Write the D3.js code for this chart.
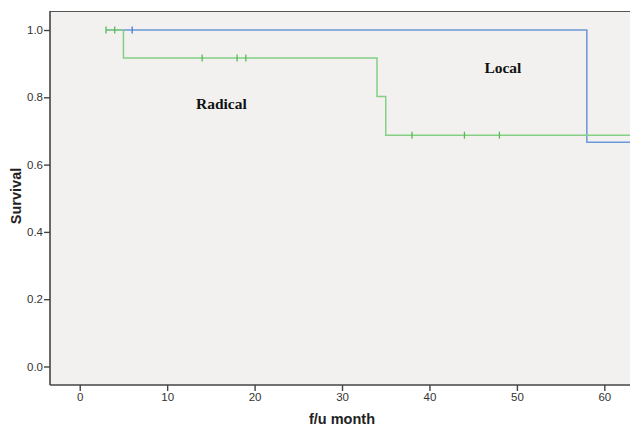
<!DOCTYPE html>
<html><head><meta charset="utf-8">
<script src="https://cdn.jsdelivr.net/npm/d3@7"></script>
<style>body{margin:0;background:#fff}svg{display:block}</style>
</head><body>
<svg id="c" width="630" height="428"></svg>
<script>
// Kaplan-Meier step data: [time, survival]
const radicalSteps = [[3,1.0],[5,0.9167],[34,0.8021],[35,0.6875],[64,0.6875]];
const radicalCensor = [[3,1.0],[4,1.0],[14,0.9167],[18,0.9167],[19,0.9167],[38,0.6875],[44,0.6875],[48,0.6875]];
const localSteps = [[3,1.0],[58,0.6667],[64,0.6667]];
const localCensor = [[6,1.0]];
const xTicks = [0,10,20,30,40,50,60];
const yTicks = [0.0,0.2,0.4,0.6,0.8,1.0];
const labels = [{text:"Radical", t:16.2, s:0.765},{text:"Local", t:48.4, s:0.872}];

const svg = d3.select("#c");
const L=50, T=11, R=631, B=385;
const x = d3.scaleLinear().domain([-3.4, 63.05]).range([L, R]);
const y = d3.scaleLinear().domain([-0.055, 1.0565]).range([B, T]);

svg.append("rect").attr("x",L).attr("y",T).attr("width",R-L).attr("height",B-T).attr("fill","#f2f1f0");
svg.append("line").attr("x1",L).attr("x2",R).attr("y1",T+0.5).attr("y2",T+0.5).attr("stroke","#555").attr("stroke-width",1.2);

const line = d3.line().x(d=>x(d[0])).y(d=>y(d[1])).curve(d3.curveStepAfter);
const g = svg.append("g").attr("clip-path","url(#clip)");
svg.append("clipPath").attr("id","clip").append("rect").attr("x",L).attr("y",T).attr("width",R-L).attr("height",B-T);

g.append("path").datum(localSteps).attr("d",line).attr("fill","none").attr("stroke","#6b98d6").attr("stroke-width",1.5);
g.append("path").datum(radicalSteps).attr("d",line).attr("fill","none").attr("stroke","#83cf83").attr("stroke-width",1.5);

g.selectAll(".cl").data(localCensor).enter().append("line")
  .attr("x1",d=>x(d[0])).attr("x2",d=>x(d[0])).attr("y1",d=>y(d[1])-3.5).attr("y2",d=>y(d[1])+3.5)
  .attr("stroke","#4a7fd0").attr("stroke-width",1.3);
g.selectAll(".cr").data(radicalCensor).enter().append("line")
  .attr("x1",d=>x(d[0])).attr("x2",d=>x(d[0])).attr("y1",d=>y(d[1])-3.5).attr("y2",d=>y(d[1])+3.5)
  .attr("stroke","#55bb55").attr("stroke-width",1.3);

// axes
const xa = svg.append("g").attr("transform",`translate(0,${B})`)
  .call(d3.axisBottom(x).tickValues(xTicks).tickFormat(d3.format("d")).tickSize(6).tickSizeOuter(0));
const ya = svg.append("g").attr("transform",`translate(${L},0)`)
  .call(d3.axisLeft(y).tickValues(yTicks).tickFormat(d3.format(".1f")).tickSize(6).tickSizeOuter(0));
[xa,ya].forEach(a=>{
  a.select(".domain").attr("stroke","#444").attr("stroke-width",1.6);
  a.selectAll(".tick line").attr("stroke","#444").attr("stroke-width",1.4);
  a.selectAll("text").attr("fill","#333").style("font-family","Liberation Sans, Arial, sans-serif").style("font-size","11.5px");
});
ya.select(".domain").attr("d",`M0,${T}V${B}`);
xa.select(".domain").attr("d",`M${L},0H${R}`);
xa.selectAll("text").attr("dy","0.71em").attr("y",8);
ya.selectAll("text").attr("x",-7);

svg.append("text").attr("x",342).attr("y",424).attr("text-anchor","middle")
  .style("font-family","Liberation Sans, Arial, sans-serif").style("font-weight","bold").style("font-size","14.5px").attr("fill","#222").text("f/u month");
svg.append("text").attr("transform","translate(21,196) rotate(-90)").attr("text-anchor","middle")
  .style("font-family","Liberation Sans, Arial, sans-serif").style("font-weight","bold").style("font-size","14.5px").attr("fill","#222").text("Survival");

svg.selectAll(".lab").data(labels).enter().append("text")
  .attr("x",d=>x(d.t)).attr("y",d=>y(d.s)).attr("text-anchor","middle")
  .style("font-family","Liberation Serif, Times New Roman, serif").style("font-weight","bold").style("font-size","15.5px").attr("fill","#111")
  .text(d=>d.text);
</script>
</body></html>
